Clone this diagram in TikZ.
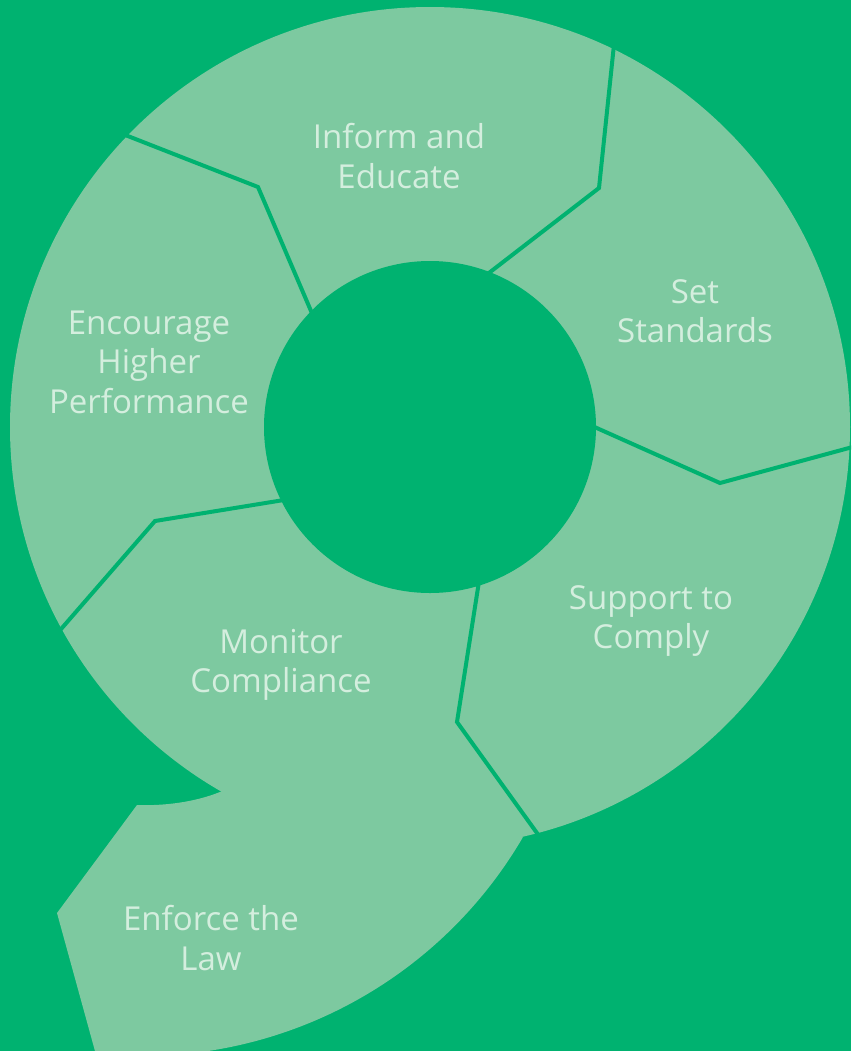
\documentclass[tikz,border=0pt]{standalone}
\usepackage{fontspec}
\setmainfont{Open Sans}
\usepackage{tikz}
\usetikzlibrary{positioning}
\definecolor{bggreen}{RGB}{0,178,112}
\definecolor{ringgreen}{RGB}{125,201,160}
\definecolor{labelgreen}{RGB}{212,238,222}

\begin{document}
\begin{tikzpicture}[
        x=0.75pt, y=-0.75pt,
        every node/.style={align=center,text=labelgreen,inner sep=0pt,
            font=\fontsize{24.75}{29.6}\selectfont},
        ring/.style={fill=ringgreen},
        divider/.style={draw=bggreen,line width=3pt}
    ]
    \fill[bggreen] (0,0) rectangle (851,1051);
    \useasboundingbox (0,0) rectangle (851,1051);

    \begin{scope}
        \clip (0,0) rectangle (851,1051);
        \fill[ring] (430,427) circle[radius=420];
        % tail below the ring
        \fill[ring] (220,792) .. controls (195,802) and (165,806) .. (137,805)
            -- (57,913) -- (98,1062) -- (157,1062) -- (157.4,1055.7)
            arc[start angle=88, end angle=30.3, radius=441]
            -- (430,700) -- cycle;

        \draw[divider] (615,35) -- (599,188) -- (485,276);
        \draw[divider] (590,425) -- (720,483) -- (860,445);
        \draw[divider] (480,575) -- (457,722) -- (542,840);
        \draw[divider] (290,499) -- (155,521) -- (55,636);
        \draw[divider] (115,131) -- (258,187) -- (314,318);

        \fill[bggreen] (430,427) circle[radius=166];
    \end{scope}

    \node (inform) at (399,156) {Inform and\\Educate};
    \node (standards) at (695,311) {Set\\Standards};
    \node (encourage) at (149,362) {Encourage\\Higher\\Performance};
    \node (support) at (651,621) {Support to\\Comply};
    \node (monitor) at (281,665) {Monitor\\Compliance};
    \node (enforce) at (211,938) {Enforce the\\Law};
\end{tikzpicture}
\end{document}
